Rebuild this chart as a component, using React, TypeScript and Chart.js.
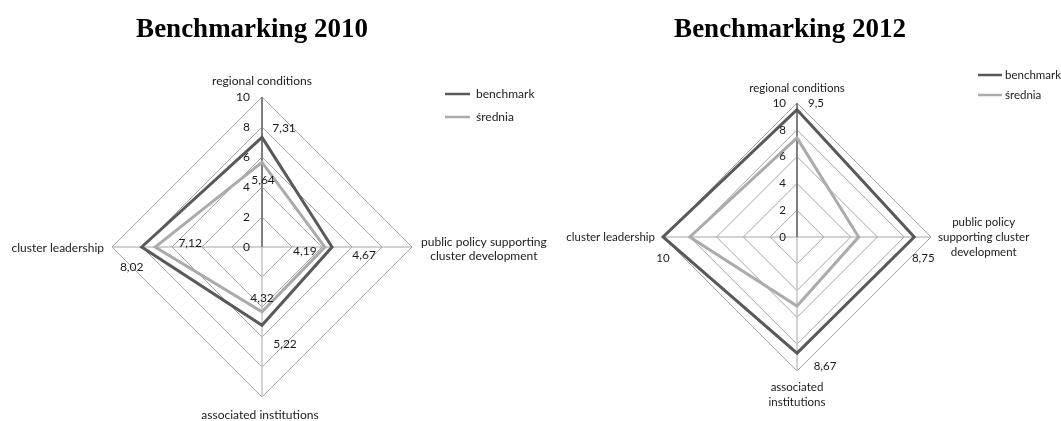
import React, { useEffect, useRef } from 'react';
import { Chart, registerables } from 'chart.js';

Chart.register(...registerables);

// ---------- data ----------
const seriesNames = ['benchmark', 'średnia'];
const categories2010 = [
  ['regional conditions'],
  ['public policy supporting', 'cluster development'],
  ['associated institutions'],
  ['cluster leadership'],
];
const categories2012 = [
  ['regional conditions'],
  ['public policy', 'supporting cluster', 'development'],
  ['associated', 'institutions'],
  ['cluster leadership'],
];
const benchmark2010 = [7.31, 4.67, 5.22, 8.02];
const srednia2010 = [5.64, 4.19, 4.32, 7.12];
const benchmark2012 = [9.5, 8.75, 8.67, 10];
const srednia2012 = [7.4, 4.6, 5.15, 8.0];
const tickValues = [0, 2, 4, 6, 8, 10];
const titles = ['Benchmarking 2010', 'Benchmarking 2012'];

// ---------- styles ----------
const DARK = '#595959';
const LIGHT = '#ababab';
const FONT = 'Lato';
const W = 1061;
const H = 421;

type Place = { dx: number; dy: number; align: 'left' | 'center' | 'right' };

interface Cfg {
  title: string;
  titleX: number;
  categories: string[][];
  series: number[][];
  padding: { left: number; top: number; right: number; bottom: number };
  fontSize: number;
  lineH: number;
  tickDx: number;
  catPlace: Place[];
  valueOffsets: (number[][] | null)[];
  legend: { x1: number; x2: number; tx: number; ys: number[] };
}

const fmt = (v: number) => String(v).replace('.', ',');

const configs: Cfg[] = [
  {
    title: titles[0],
    titleX: 252,
    categories: categories2010,
    series: [benchmark2010, srednia2010],
    padding: { left: 112, top: 97, right: 649, bottom: 24 },
    fontSize: 12,
    lineH: 14,
    tickDx: -12,
    catPlace: [
      { dx: 0, dy: -16, align: 'center' },
      { dx: 9, dy: 2, align: 'left' },
      { dx: -2, dy: 18, align: 'center' },
      { dx: -8, dy: 1, align: 'right' },
    ],
    valueOffsets: [
      [[22, -9], [32, 8], [23, 19], [-10, 20]],
      [[1, 18], [-20, 4], [0, -14], [35, -4]],
    ],
    legend: { x1: 445, x2: 470, tx: 476, ys: [94, 117] },
  },
  {
    title: titles[1],
    titleX: 790,
    categories: categories2012,
    series: [benchmark2012, srednia2012],
    padding: { left: 663, top: 103, right: 130, bottom: 50 },
    fontSize: 11.5,
    lineH: 15,
    tickDx: -11,
    catPlace: [
      { dx: 0, dy: -15, align: 'center' },
      { dx: 7, dy: 0, align: 'left' },
      { dx: 0, dy: 24, align: 'center' },
      { dx: -8, dy: 0, align: 'right' },
    ],
    valueOffsets: [
      [[19, -6], [9, 21], [28, 13], [0, 21]],
      null,
    ],
    legend: { x1: 978, x2: 1002, tx: 1005, ys: [75, 95] },
  },
];

function makeOverlay(cfg: Cfg) {
  return {
    id: 'overlay',
    afterDatasetsDraw(chart: any) {
      const s = chart.scales.r;
      const ctx: CanvasRenderingContext2D = chart.ctx;
      ctx.save();
      ctx.fillStyle = '#000';
      // title
      ctx.font = 'bold 27px "Liberation Serif"';
      ctx.textAlign = 'center';
      ctx.textBaseline = 'alphabetic';
      ctx.fillText(cfg.title, cfg.titleX, 37);

      ctx.font = `${cfg.fontSize}px ${FONT}`;
      ctx.fillStyle = '#1a1a1a';
      ctx.textBaseline = 'middle';
      // tick labels
      ctx.textAlign = 'right';
      tickValues.forEach((v) => {
        const p = s.getPointPositionForValue(0, v);
        ctx.fillText(String(v), p.x + cfg.tickDx, p.y);
      });
      // category labels
      ctx.textAlign = 'center';
      cfg.categories.forEach((lines, i) => {
        const p = s.getPointPosition(i, s.drawingArea);
        const pl = cfg.catPlace[i];
        const w = Math.max(...lines.map((l) => ctx.measureText(l).width));
        let left = p.x + pl.dx;
        if (pl.align === 'center') left -= w / 2;
        else if (pl.align === 'right') left -= w;
        const top = p.y + pl.dy - ((lines.length - 1) * cfg.lineH) / 2;
        lines.forEach((l, j) => ctx.fillText(l, left + w / 2, top + j * cfg.lineH));
      });
      // value labels
      chart.data.datasets.forEach((ds: any, di: number) => {
        const offs = cfg.valueOffsets[di];
        if (!offs) return;
        const meta = chart.getDatasetMeta(di);
        meta.data.forEach((el: any, i: number) => {
          ctx.fillText(fmt(ds.data[i]), el.x + offs[i][0], el.y + offs[i][1]);
        });
      });
      // legend
      ctx.textAlign = 'left';
      seriesNames.forEach((name, i) => {
        const y = cfg.legend.ys[i];
        ctx.strokeStyle = i === 0 ? DARK : LIGHT;
        ctx.lineWidth = 2.5;
        ctx.beginPath();
        ctx.moveTo(cfg.legend.x1, y);
        ctx.lineTo(cfg.legend.x2, y);
        ctx.stroke();
        ctx.fillText(name, cfg.legend.tx, y);
      });
      ctx.restore();
    },
  };
}

function RadarPanel({ cfg }: { cfg: Cfg }) {
  const ref = useRef<HTMLCanvasElement>(null);
  useEffect(() => {
    if (!ref.current) return;
    const chart = new Chart(ref.current, {
      type: 'radar',
      data: {
        labels: cfg.categories.map((c) => c.join(' ')),
        datasets: cfg.series.map((data, i) => ({
          label: seriesNames[i],
          data,
          borderColor: i === 0 ? DARK : LIGHT,
          backgroundColor: 'transparent',
          borderWidth: 3,
          borderJoinStyle: 'miter',
          pointRadius: 0,
          fill: false,
          tension: 0,
        })),
      },
      options: {
        responsive: false,
        animation: false,
        events: [],
        layout: { padding: cfg.padding },
        plugins: { legend: { display: false }, tooltip: { enabled: false }, title: { display: false } },
        scales: {
          r: {
            min: 0,
            max: 10,
            ticks: { display: false, stepSize: 2 },
            pointLabels: { display: false },
            grid: { color: '#a6a6a6', lineWidth: 1 },
            angleLines: {
              color: (c: any) => ['#7f7f7f', '#a6a6a6', '#c4c4c4', '#a6a6a6'][c.index] || '#a6a6a6',
              lineWidth: (c: any) => [2, 1, 1.5, 1][c.index] || 1,
            },
          },
        },
      },
      plugins: [makeOverlay(cfg)],
    } as any);
    return () => chart.destroy();
  }, [cfg]);
  return (
    <canvas
      ref={ref}
      width={W}
      height={H}
      style={{ position: 'absolute', left: 0, top: 0, width: W, height: H }}
    />
  );
}

export default function App() {
  return (
    <div style={{ position: 'absolute', left: 0, top: 0, width: W, height: H, background: '#fff' }}>
      {configs.map((cfg, i) => (
        <RadarPanel key={i} cfg={cfg} />
      ))}
    </div>
  );
}
